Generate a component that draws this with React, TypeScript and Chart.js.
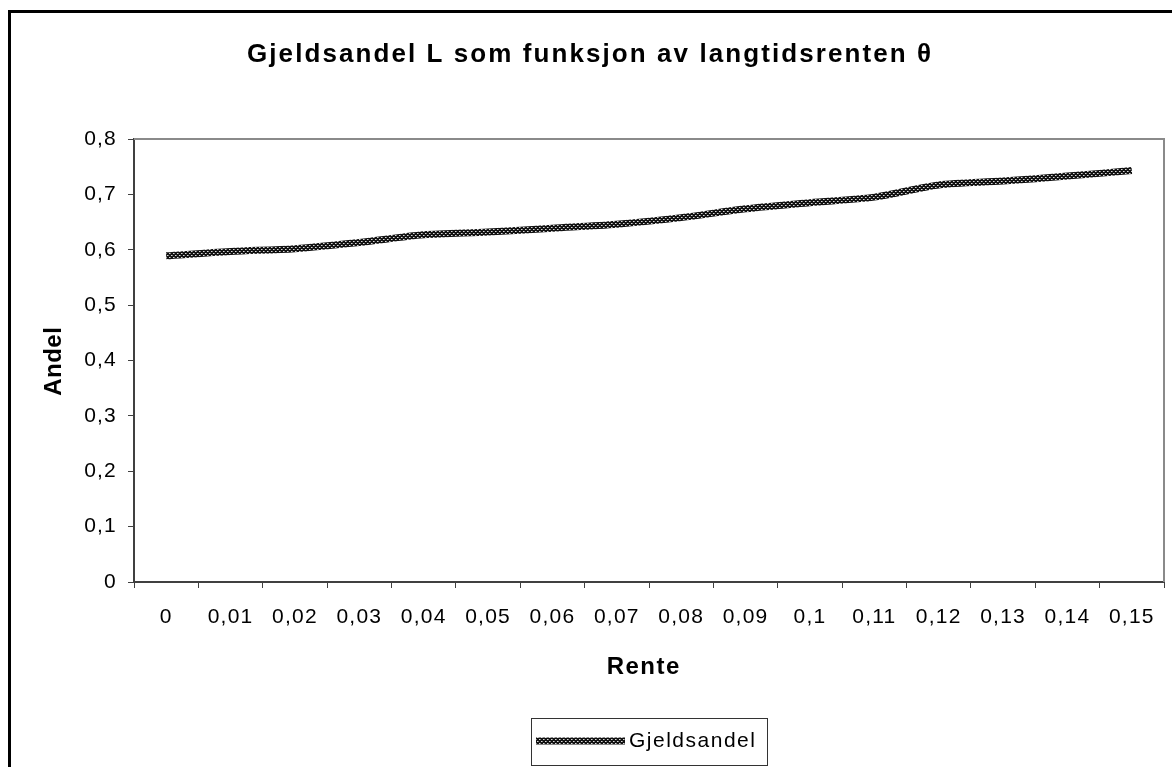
import React, { useEffect, useRef } from "react";
import { Chart, registerables } from "chart.js";

Chart.register(...registerables);

// ---- data ----
const categories: string[] = [
  "0", "0,01", "0,02", "0,03", "0,04", "0,05", "0,06", "0,07",
  "0,08", "0,09", "0,1", "0,11", "0,12", "0,13", "0,14", "0,15",
];
const gjeldsandel: number[] = [
  0.589, 0.597, 0.602, 0.613, 0.627, 0.632, 0.639, 0.646,
  0.658, 0.674, 0.685, 0.695, 0.717, 0.724, 0.733, 0.743,
];
const yMin = 0;
const yMax = 0.8;
const yStep = 0.1;
const titleText = "Gjeldsandel L som funksjon av langtidsrenten θ";
const xTitleText = "Rente";
const yTitleText = "Andel";
const seriesName = "Gjeldsandel";

const FONT = '"Liberation Sans", Arial, sans-serif';

function makePattern(ctx: CanvasRenderingContext2D): CanvasPattern | string {
  const c = document.createElement("canvas");
  c.width = 4;
  c.height = 4;
  const p = c.getContext("2d");
  if (!p) return "#333";
  p.fillStyle = "#121212";
  p.fillRect(0, 0, 4, 4);
  p.fillStyle = "#d8d8d8";
  p.fillRect(1, 1, 1, 1);
  p.fillRect(3, 3, 1, 1);
  p.fillStyle = "#808080";
  p.fillRect(2, 1, 1, 1);
  p.fillRect(0, 3, 1, 1);
  return ctx.createPattern(c, "repeat") || "#333";
}

function drawSpaced(
  ctx: CanvasRenderingContext2D,
  text: string,
  x: number,
  y: number,
  font: string,
  spacing: number,
  align: "center" | "left",
  rotate = 0
) {
  ctx.save();
  ctx.font = font;
  (ctx as any).letterSpacing = "0px";
  const w0 = ctx.measureText(text).width;
  const n = Array.from(text).length;
  const w = w0 + spacing * (n - 1);
  (ctx as any).letterSpacing = spacing + "px";
  ctx.translate(x, y);
  if (rotate) ctx.rotate(rotate);
  ctx.textBaseline = "middle";
  ctx.textAlign = "left";
  ctx.fillStyle = "#000";
  const sx = align === "center" ? -w / 2 : 0;
  ctx.fillText(text, sx, 0);
  ctx.restore();
}

function spacingFor(ctx: CanvasRenderingContext2D, text: string, font: string, target: number) {
  ctx.save();
  ctx.font = font;
  (ctx as any).letterSpacing = "0px";
  const w0 = ctx.measureText(text).width;
  ctx.restore();
  const n = Array.from(text).length;
  return Math.max(0, (target - w0) / (n - 1));
}

const decorPlugin = {
  id: "decor",
  beforeDraw(chart: any) {
    const ctx = chart.ctx as CanvasRenderingContext2D;
    (ctx as any).letterSpacing = "1.2px";
    ctx.save();
    ctx.fillStyle = "#fff";
    ctx.fillRect(0, 0, chart.width, chart.height);
    ctx.restore();
  },
  afterDraw(chart: any) {
    const ctx = chart.ctx as CanvasRenderingContext2D;
    const a = chart.chartArea;
    ctx.save();
    (ctx as any).letterSpacing = "0px";
    // plot area border top/right
    ctx.strokeStyle = "#8a8a8a";
    ctx.lineWidth = 2;
    ctx.beginPath();
    ctx.moveTo(a.left, a.top);
    ctx.lineTo(a.right, a.top);
    ctx.lineTo(a.right, a.bottom);
    ctx.stroke();
    // outer chart border (left & top visible)
    ctx.fillStyle = "#000";
    ctx.fillRect(8, 10, 3, chart.height);
    ctx.fillRect(8, 10, chart.width, 3);

    // title
    const tFont = "bold 26px " + FONT;
    drawSpaced(ctx, titleText, 589, 55, tFont, spacingFor(ctx, titleText, tFont, 684), "center");
    // axis titles
    const aFont = "bold 24px " + FONT;
    drawSpaced(ctx, xTitleText, (a.left + a.right) / 2 - 6, 667, aFont, 1.5, "center");
    drawSpaced(ctx, yTitleText, 54, (a.top + a.bottom) / 2 + 1, aFont, 0.5, "center", -Math.PI / 2);

    // legend
    const lx = 531, ly = 718, lw = 236, lh = 47;
    ctx.strokeStyle = "#333";
    ctx.lineWidth = 1;
    ctx.strokeRect(lx + 0.5, ly + 0.5, lw, lh);
    const ds = chart.data.datasets[0];
    ctx.strokeStyle = ds.borderColor;
    ctx.lineWidth = 7;
    ctx.lineCap = "butt";
    ctx.beginPath();
    ctx.moveTo(536, 741);
    ctx.lineTo(625, 741);
    ctx.stroke();
    drawSpaced(ctx, seriesName, 629, 741, "21px " + FONT, 1.5, "left");
    ctx.restore();
  },
};

export default function App() {
  const canvasRef = useRef<HTMLCanvasElement | null>(null);

  useEffect(() => {
    const canvas = canvasRef.current;
    if (!canvas) return;
    const ctx = canvas.getContext("2d");
    if (!ctx) return;
    const pattern = makePattern(ctx);

    const chart = new Chart(ctx, {
      type: "line",
      data: {
        labels: categories,
        datasets: [
          {
            label: seriesName,
            data: gjeldsandel,
            borderColor: pattern as any,
            backgroundColor: pattern as any,
            borderWidth: 7,
            pointRadius: 0,
            pointHoverRadius: 0,
            tension: 0.3,
            fill: false,
            borderCapStyle: "butt",
          },
        ],
      },
      options: {
        animation: false,
        responsive: true,
        maintainAspectRatio: false,
        devicePixelRatio: 1,
        layout: { padding: { left: 0, top: 139, right: 8, bottom: 0 } },
        plugins: {
          legend: { display: false },
          title: { display: false },
          tooltip: { enabled: false },
        },
        scales: {
          x: {
            type: "category",
            offset: true,
            afterFit: (s: any) => {
              s.height = 185;
            },
            grid: {
              offset: true,
              drawOnChartArea: false,
              drawTicks: true,
              tickLength: 6,
              color: "#404040",
              lineWidth: 1,
            },
            border: { display: true, color: "#404040", width: 2 },
            ticks: {
              autoSkip: false,
              maxRotation: 0,
              minRotation: 0,
              padding: 17,
              color: "#000",
              font: { family: FONT, size: 21 },
            },
          },
          y: {
            type: "linear",
            min: yMin,
            max: yMax,
            afterFit: (s: any) => {
              s.width = 134;
            },
            grid: {
              drawOnChartArea: false,
              drawTicks: true,
              tickLength: 6,
              color: "#404040",
              lineWidth: 1,
            },
            border: { display: true, color: "#404040", width: 2 },
            ticks: {
              stepSize: yStep,
              padding: 11,
              color: "#000",
              font: { family: FONT, size: 21 },
              callback: (v: any) => {
                const n = Math.round(Number(v) * 10) / 10;
                return n === 0 ? "0" : n.toFixed(1).replace(".", ",");
              },
            },
          },
        },
      },
      plugins: [decorPlugin],
    });

    return () => {
      chart.destroy();
    };
  }, []);

  return (
    <div
      style={{
        position: "fixed",
        left: 0,
        top: 0,
        width: 1172,
        height: 767,
        background: "#fff",
      }}
    >
      <canvas ref={canvasRef} />
    </div>
  );
}
